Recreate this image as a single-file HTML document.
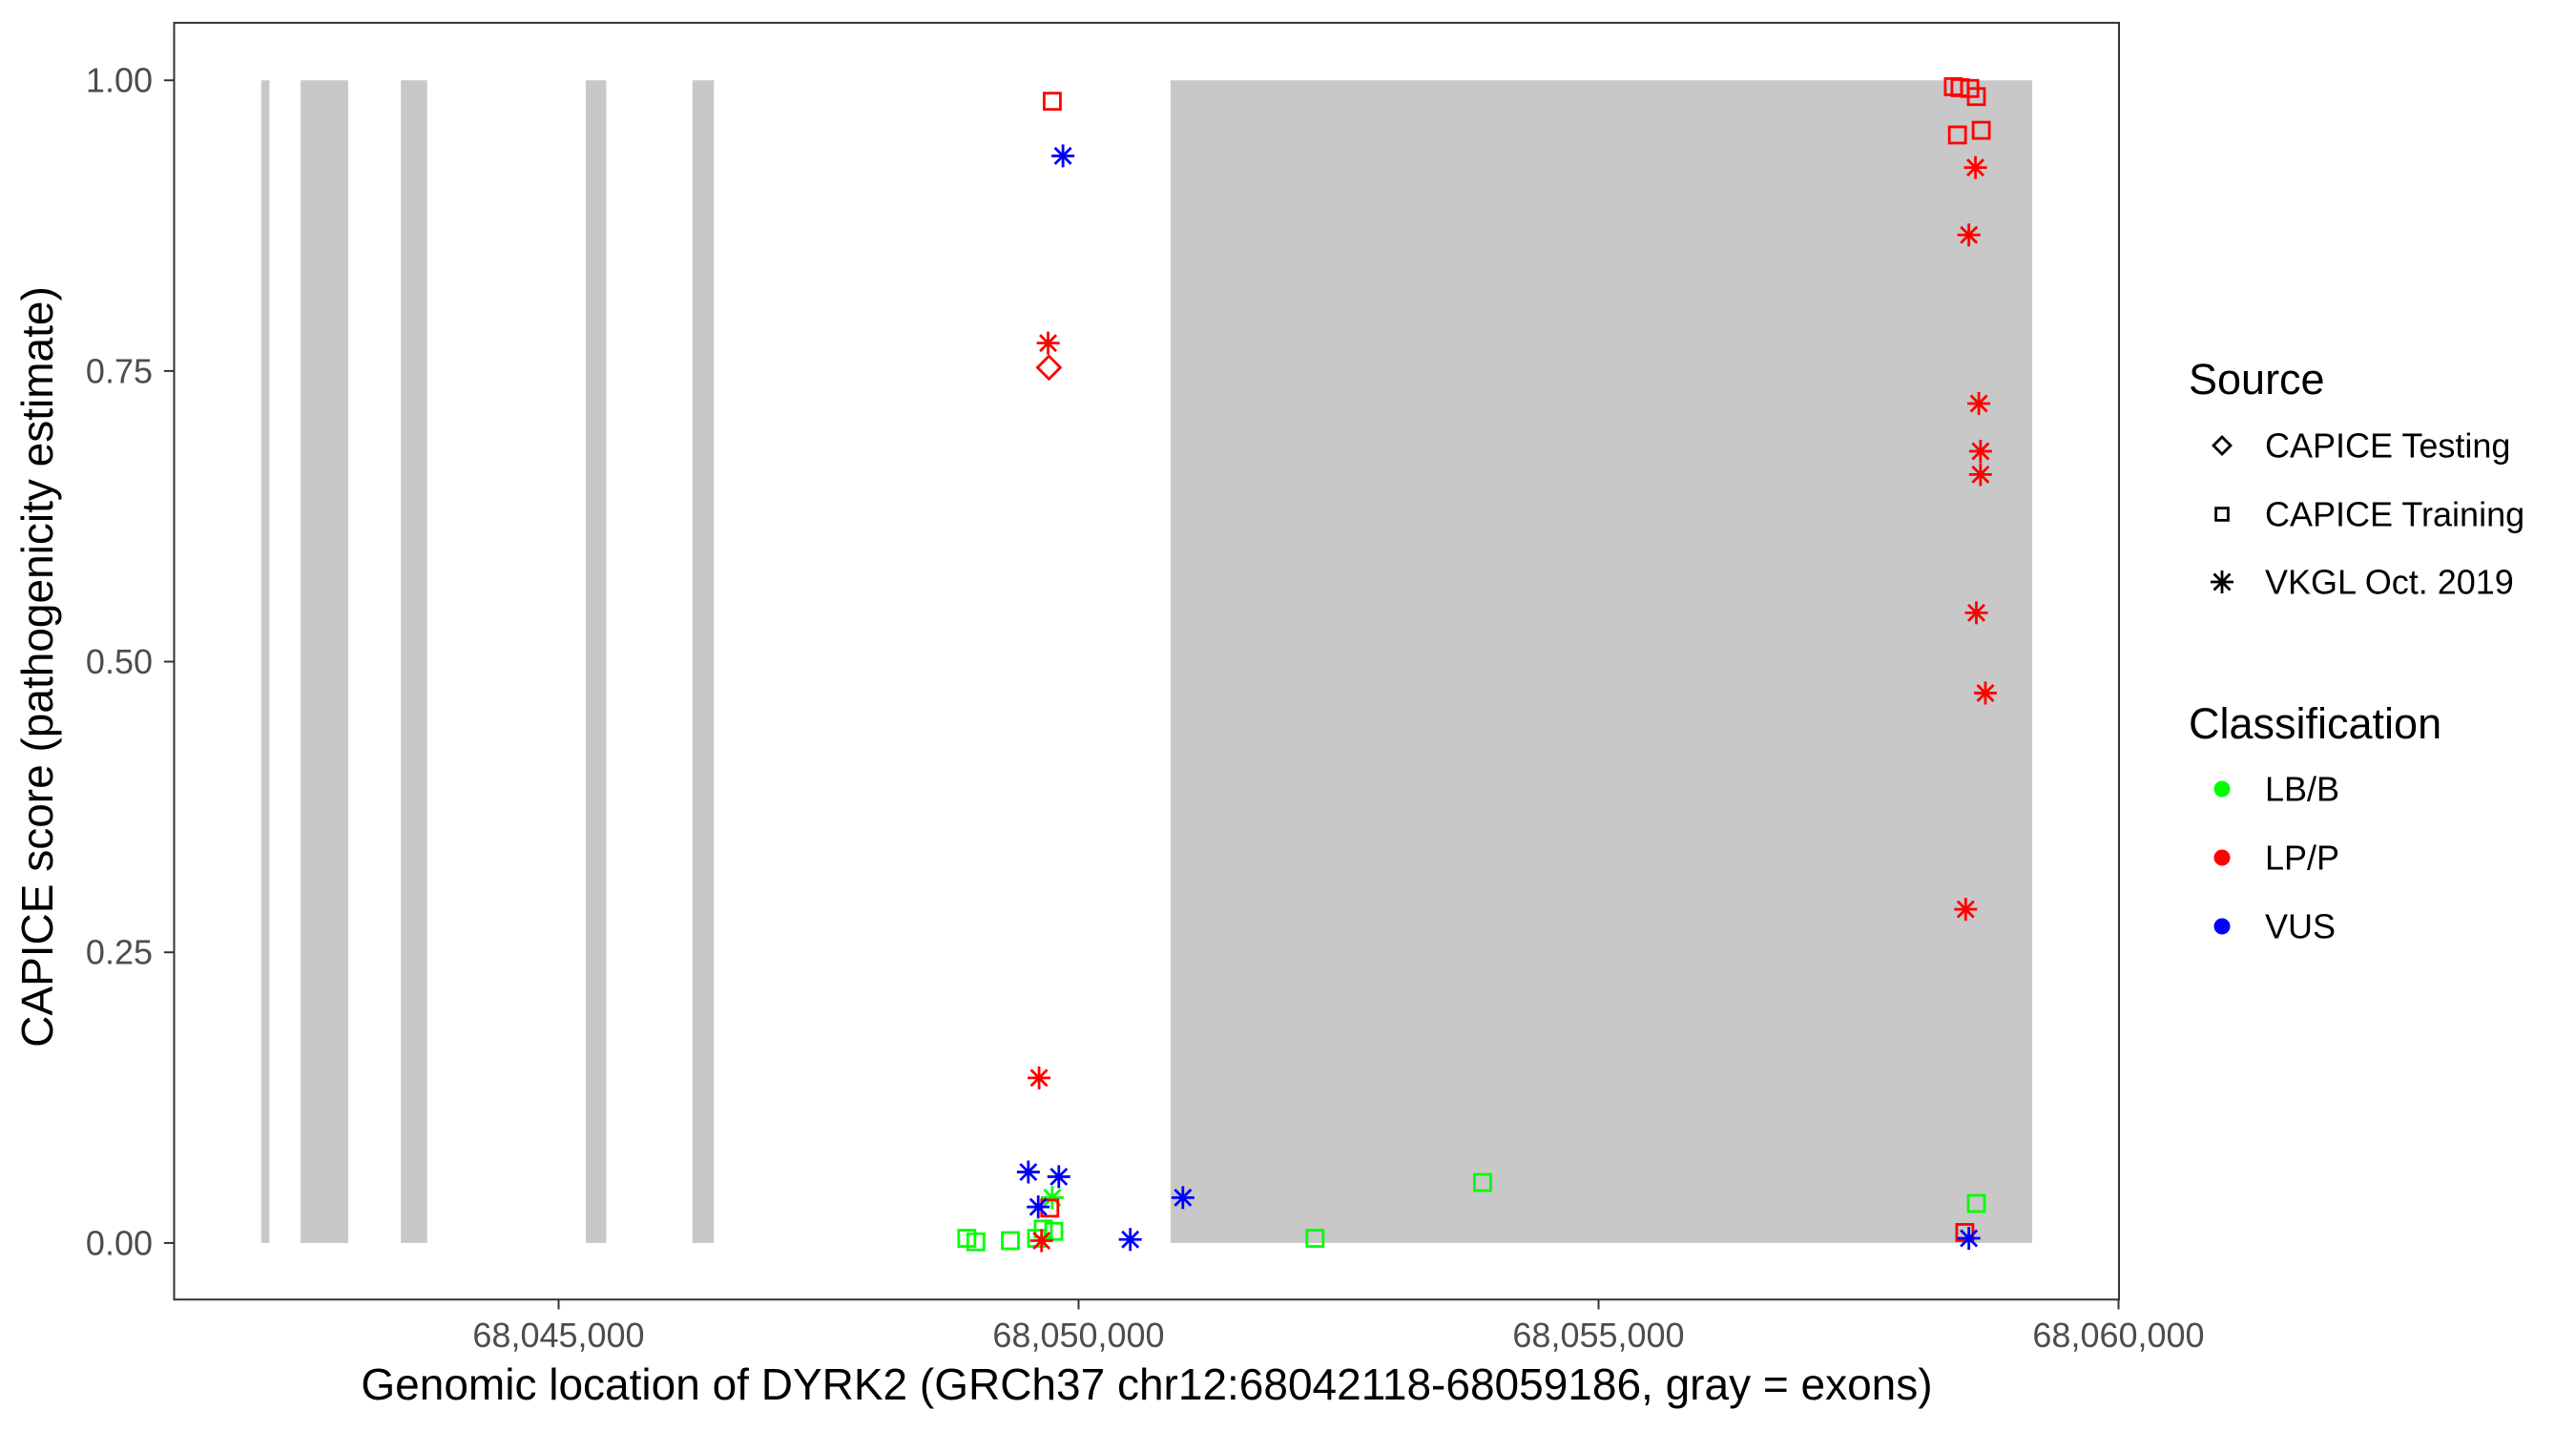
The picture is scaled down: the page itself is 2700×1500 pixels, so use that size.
<!DOCTYPE html>
<html><head><meta charset="utf-8"><style>
html,body{margin:0;padding:0;background:#fff;}
svg{display:block;font-family:"Liberation Sans",Arial,sans-serif;}
</style></head><body>
<svg id="chart" width="2700" height="1500" viewBox="0 0 2700 1500" xmlns="http://www.w3.org/2000/svg">
<rect x="0" y="0" width="2700" height="1500" fill="#fff"/>
<g id="exons"></g>
<g id="points"></g>
<rect x="182.5" y="23.9" width="2038.5" height="1338.3" fill="none" stroke="#333" stroke-width="2"/>
<g id="yaxis"></g>
<g id="xaxis"></g>
<text x="1202" y="1467" font-size="46" text-anchor="middle" fill="#000">Genomic location of DYRK2 (GRCh37 chr12:68042118-68059186, gray = exons)</text>
<text transform="translate(55,699) rotate(-90)" font-size="46" text-anchor="middle" fill="#000">CAPICE score (pathogenicity estimate)</text>
<g id="legend">
<text x="2294" y="413" font-size="45">Source</text>
<text x="2294" y="774" font-size="45">Classification</text>
</g>
</svg>
<script>
const exonStarts=[68042140,68042519,68043483,68045261,68046287,68050884];
const exonEnds=[68042219,68042977,68043736,68045458,68046493,68059170];
const yTicks=[0,0.25,0.5,0.75,1];
const yTickLabels=["0.00","0.25","0.50","0.75","1.00"];
const xTicks=[68045000,68050000,68055000,68060000];
const xTickLabels=["68,045,000","68,050,000","68,055,000","68,060,000"];
const ptPos=[68049747,68049850,68049707,68049715,68049620,68049517,68049810,68049747,68049723,68049612,68048925,68049012,68049344,68049596,68049660,68049762,68049644,68050497,68051003,68053885,68052274,
68058412,68058476,68058570,68058633,68058451,68058680,68058624,68058561,68058657,68058673,68058673,68058633,68058720,68058530,68058522,68058561,68058633];
const ptScore=[0.982,0.935,0.774,0.753,0.142,0.061,0.057,0.039,0.030,0.031,0.004,0.001,0.002,0.004,0.012,0.010,0.002,0.003,0.039,0.052,0.004,
0.9945,0.9937,0.993,0.986,0.953,0.957,0.925,0.867,0.722,0.681,0.661,0.542,0.473,0.287,0.009,0.004,0.034];
const ptSource=["Training","VKGL","VKGL","Testing","VKGL","VKGL","VKGL","VKGL","Training","VKGL","Training","Training","Training","Training","Training","Training","VKGL","VKGL","VKGL","Training","Training",
"Training","Training","Training","Training","Training","Training","VKGL","VKGL","VKGL","VKGL","VKGL","VKGL","VKGL","VKGL","Training","VKGL","Training"];
const ptClass=["LP/P","VUS","LP/P","LP/P","LP/P","VUS","VUS","LB/B","LP/P","VUS","LB/B","LB/B","LB/B","LB/B","LB/B","LB/B","LP/P","VUS","VUS","LB/B","LB/B",
"LP/P","LP/P","LP/P","LP/P","LP/P","LP/P","LP/P","LP/P","LP/P","LP/P","LP/P","LP/P","LP/P","LP/P","LP/P","VUS","LB/B"];
const srcNames=["CAPICE Testing","CAPICE Training","VKGL Oct. 2019"];
const srcKeys=["Testing","Training","VKGL"];
const classNames=["LB/B","LP/P","VUS"];
const classColors={"LB/B":"#00ff00","LP/P":"#ff0000","VUS":"#0000ff"};

const NS="http://www.w3.org/2000/svg";
function xs(g){return 585.5+(g-68045000)*0.109;}
function ys(v){return 1302.9-v*1218.7;}
function mk(tag,attrs,parent){const e=document.createElementNS(NS,tag);for(const k in attrs)e.setAttribute(k,attrs[k]);parent.appendChild(e);return e;}
function shape(src,cx,cy,col,parent,s){
  s=s||1;
  if(src==="Training"){return mk("rect",{x:cx-8.5*s,y:cy-8.5*s,width:17*s,height:17*s,fill:"none",stroke:col,"stroke-width":2.8},parent);}
  if(src==="Testing"){return mk("polygon",{points:`${cx},${cy-12*s} ${cx+12*s},${cy} ${cx},${cy+12*s} ${cx-12*s},${cy}`,fill:"none",stroke:col,"stroke-width":2.8},parent);}
  const r=12*s,d=8.5*s;
  return mk("path",{d:`M${cx-r},${cy}H${cx+r}M${cx},${cy-r}V${cy+r}M${cx-d},${cy-d}L${cx+d},${cy+d}M${cx-d},${cy+d}L${cx+d},${cy-d}`,fill:"none",stroke:col,"stroke-width":2.8},parent);
}
const ex=document.getElementById("exons");
for(let i=0;i<exonStarts.length;i++){
  const r=mk("rect",{x:xs(exonStarts[i]),y:ys(1),width:xs(exonEnds[i])-xs(exonStarts[i]),height:ys(0)-ys(1),fill:"#c8c8c8"},ex);
  
  
}
const pg=document.getElementById("points");
for(let i=0;i<ptPos.length;i++){
  const p=shape(ptSource[i],xs(ptPos[i]),ys(ptScore[i]),classColors[ptClass[i]],pg);
  
  
}
const ya=document.getElementById("yaxis");
for(let i=0;i<yTicks.length;i++){
  const y=ys(yTicks[i]);
  const t=mk("line",{x1:172,x2:182.5,y1:y,y2:y,stroke:"#333","stroke-width":2},ya);
  
  
  const l=mk("text",{x:160,y:y+12.5,"font-size":36,"text-anchor":"end",fill:"#4d4d4d"},ya);
  l.textContent=yTickLabels[i];
  
  
}
const xa=document.getElementById("xaxis");
for(let i=0;i<xTicks.length;i++){
  const x=xs(xTicks[i]);
  const t=mk("line",{x1:x,x2:x,y1:1362.2,y2:1372.5,stroke:"#333","stroke-width":2},xa);
  
  
  const l=mk("text",{x:x,y:1412,"font-size":36,"text-anchor":"middle",fill:"#4d4d4d"},xa);
  l.textContent=xTickLabels[i];
  
  
}
const lg=document.getElementById("legend");
const srcY=[467,539,610];
for(let i=0;i<srcNames.length;i++){
  const k=shape(srcKeys[i],2329,srcY[i],"#000",lg,srcKeys[i]==="VKGL"?1:0.75);
  
  
  const l=mk("text",{x:2374,y:srcY[i]+12.5,"font-size":36,fill:"#000"},lg);
  l.textContent=srcNames[i];
  
  
}
const clsY=[827,899,971];
for(let i=0;i<classNames.length;i++){
  const c=mk("circle",{cx:2329,cy:clsY[i],r:8.5,fill:classColors[classNames[i]]},lg);
  
  
  const l=mk("text",{x:2374,y:clsY[i]+12.5,"font-size":36,fill:"#000"},lg);
  l.textContent=classNames[i];
  
  
}
</script>
</body></html>
